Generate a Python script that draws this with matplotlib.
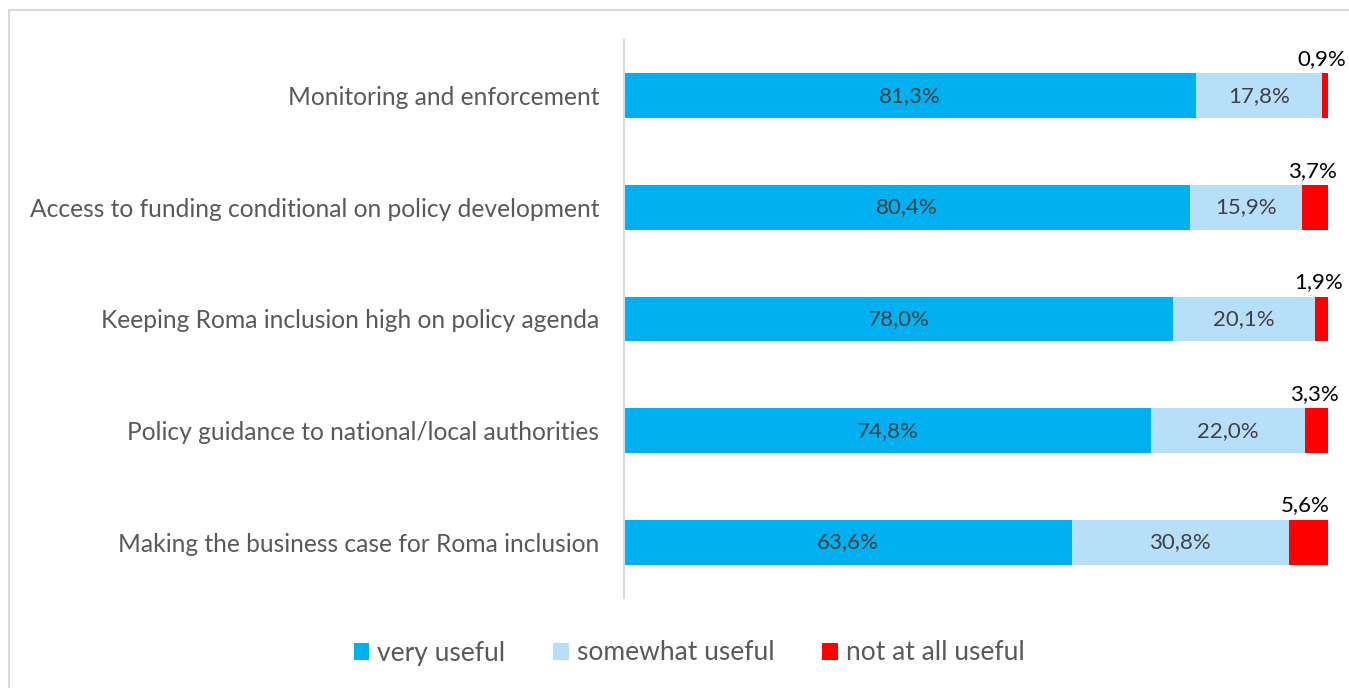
import matplotlib.pyplot as plt
import numpy as np
from matplotlib.patches import Rectangle

categories = [
    "Monitoring and enforcement",
    "Access to funding conditional on policy development",
    "Keeping Roma inclusion high on policy agenda",
    "Policy guidance to national/local authorities",
    "Making the business case for Roma inclusion",
]
very_useful = [81.3, 80.4, 78.0, 74.8, 63.6]
somewhat_useful = [17.8, 15.9, 20.1, 22.0, 30.8]
not_useful = [0.9, 3.7, 1.9, 3.3, 5.6]
series_names = ["very useful", "somewhat useful", "not at all useful"]
colors = ["#00B0F0", "#B8DFFA", "#FF0000"]

plt.rcParams['font.family'] = ['Lato', 'DejaVu Sans']

fig = plt.figure(figsize=(13.49, 6.88), dpi=100)
# outer light frame
fig.patches.append(Rectangle((9 / 1349, -0.1), 1.2, 1 - 10 / 688 + 0.1, transform=fig.transFigure,
                             fill=False, edgecolor="#d9d9d9", linewidth=1.5))
ax = fig.add_axes([624 / 1349, 1 - 598 / 688, 704 / 1349, 558 / 688])

y = np.arange(len(categories))
h = 0.40
ax.barh(y, very_useful, height=h, color=colors[0], label=series_names[0])
left2 = np.array(very_useful)
ax.barh(y, somewhat_useful, height=h, left=left2, color=colors[1], label=series_names[1])
left3 = left2 + np.array(somewhat_useful)
ax.barh(y, not_useful, height=h, left=left3, color=colors[2], label=series_names[2])

def fmt(v):
    return f"{v:.1f}%".replace(".", ",")

for i in range(len(categories)):
    ax.text(very_useful[i] / 2, i, fmt(very_useful[i]), ha='center', va='center',
            color='#404040', fontsize=16)
    ax.text(left2[i] + somewhat_useful[i] / 2, i, fmt(somewhat_useful[i]), ha='center', va='center',
            color='#404040', fontsize=16)
    ax.text(left3[i] + not_useful[i] / 2 - 0.4, i - h / 2 - 0.04, fmt(not_useful[i]), ha='center',
            va='bottom', color='black', fontsize=16)

ax.set_xlim(0, 100)
ax.set_ylim(len(categories) - 0.5, -0.5)
ax.set_yticks(y)
ax.set_yticklabels(categories, fontsize=17.7, color='#595959')
ax.tick_params(axis='y', length=0, pad=18)
ax.set_xticks([])
for s in ['top', 'right', 'bottom']:
    ax.spines[s].set_visible(False)
ax.spines['left'].set_color('#d9d9d9')
ax.spines['left'].set_linewidth(1.5)

handles, labels = ax.get_legend_handles_labels()
fig.legend(handles, labels, loc='center', bbox_to_anchor=(689 / 1349, 1 - 653 / 688), ncol=3,
           frameon=False, fontsize=19, handlelength=0.6, handleheight=0.6, handletextpad=0.3,
           columnspacing=1.8, labelcolor='#595959')

plt.savefig("out.png", dpi=100)
